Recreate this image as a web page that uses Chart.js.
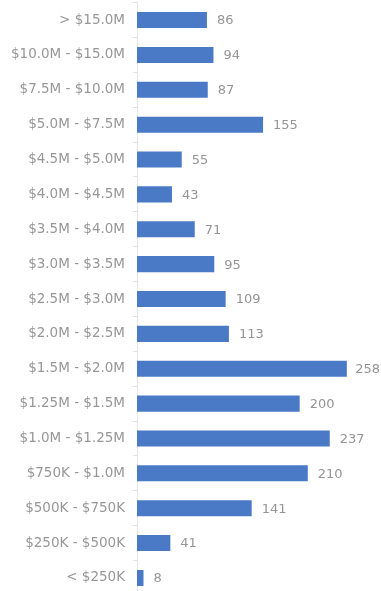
<!DOCTYPE html>
<html>
<head>
<meta charset="utf-8">
<script src="https://cdn.jsdelivr.net/npm/chart.js@4"></script>
<style>
  html, body { margin: 0; padding: 0; background: #fff; overflow: hidden; }
  #wrap { width: 381px; height: 596px; }
</style>
</head>
<body>
<div id="wrap"><canvas id="myChart"></canvas></div>
<script>
// price ranges, top to bottom
var categories = [
  "> $15.0M", "$10.0M - $15.0M", "$7.5M - $10.0M", "$5.0M - $7.5M",
  "$4.5M - $5.0M", "$4.0M - $4.5M", "$3.5M - $4.0M", "$3.0M - $3.5M",
  "$2.5M - $3.0M", "$2.0M - $2.5M", "$1.5M - $2.0M", "$1.25M - $1.5M",
  "$1.0M - $1.25M", "$750K - $1.0M", "$500K - $750K", "$250K - $500K",
  "< $250K"
];
// count per range
var counts = [86, 94, 87, 155, 55, 43, 71, 95, 109, 113, 258, 200, 237, 210, 141, 41, 8];

// values written right of each bar
var valueLabels = {
  id: "valueLabels",
  afterDatasetsDraw: function(chart) {
    var ctx = chart.ctx;
    var meta = chart.getDatasetMeta(0);
    ctx.save();
    ctx.font = "13px 'DejaVu Sans'";
    ctx.fillStyle = "#959595";
    ctx.textAlign = "left";
    ctx.textBaseline = "middle";
    for (var i = 0; i < meta.data.length; i++) {
      var bar = meta.data[i];
      var txt = String(counts[i]);
      var x = bar.x + 10;
      var w = ctx.measureText(txt).width;
      // keep it inside the canvas
      if (x + w > chart.width - 1) x = chart.width - 1 - w;
      ctx.fillText(txt, x, bar.y + 1);
    }
    ctx.restore();
  }
};

var chart = new Chart(document.getElementById("myChart"), {
  type: "bar",
  data: {
    labels: categories,
    datasets: [{
      data: counts,
      backgroundColor: "#4a7ac6",
      borderWidth: 0,
      barPercentage: 0.92,
      categoryPercentage: 0.5
    }]
  },
  plugins: [valueLabels],
  options: {
    indexAxis: "y",
    responsive: true,
    maintainAspectRatio: false,
    animation: false,
    layout: { padding: { top: 2.6, right: 0, bottom: 0.6, left: 0 } },
    plugins: {
      legend: { display: false },
      tooltip: { enabled: false }
    },
    scales: {
      x: {
        display: false,
        min: 0,
        max: 300
      },
      y: {
        afterFit: function(scale) {
          scale.width = 137;
          scale.paddingTop = 0;
          scale.paddingBottom = 0;
        },
        border: { display: true, color: "#e6e6e6", width: 1 },
        grid: {
          offset: true,
          drawOnChartArea: false,
          drawTicks: true,
          tickLength: 4,
          color: "#ecdcdc"
        },
        ticks: {
          color: "#979797",
          padding: 8,
          font: { family: "'DejaVu Sans'", size: 13.5 }
        }
      }
    }
  }
});
</script>
</body>
</html>
